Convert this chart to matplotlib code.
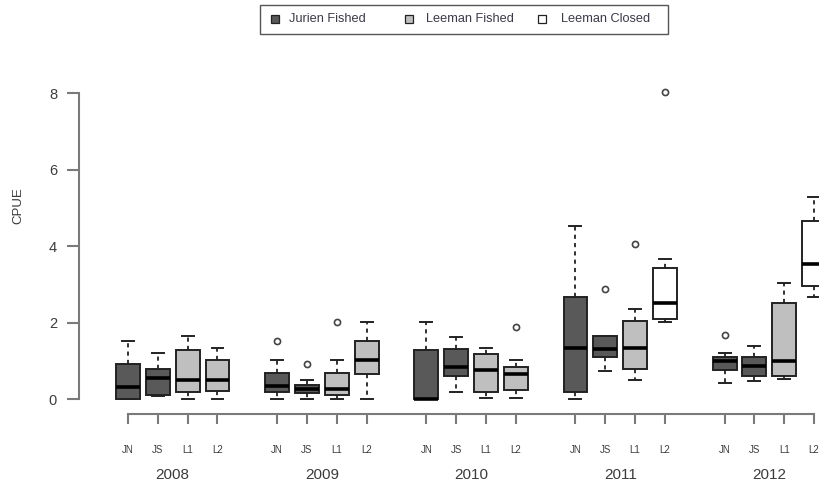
import matplotlib
matplotlib.use("Agg")
import matplotlib.pyplot as plt
from matplotlib.patches import Rectangle
from matplotlib.transforms import blended_transform_factory

plt.rcParams['font.family'] = ['Liberation Sans', 'DejaVu Sans']

# ---- data -------------------------------------------------------------
years = ['2008', '2009', '2010', '2011', '2012']
sites = ['JN', 'JS', 'L1', 'L2']
groups = ['Jurien Fished', 'Leeman Fished', 'Leeman Closed']

# management status of each site in each year
status = [
    ['Jurien Fished', 'Jurien Fished', 'Leeman Fished', 'Leeman Fished'],
    ['Jurien Fished', 'Jurien Fished', 'Leeman Fished', 'Leeman Fished'],
    ['Jurien Fished', 'Jurien Fished', 'Leeman Fished', 'Leeman Fished'],
    ['Jurien Fished', 'Jurien Fished', 'Leeman Fished', 'Leeman Closed'],
    ['Jurien Fished', 'Jurien Fished', 'Leeman Fished', 'Leeman Closed'],
]

# box statistics (rows = years, columns = sites)
whislo = [
    [0.00, 0.09, 0.00, 0.00],
    [0.00, 0.00, 0.00, 0.00],
    [0.00, 0.19, 0.02, 0.02],
    [0.00, 0.73, 0.50, 2.02],
    [0.41, 0.47, 0.52, 2.68],
]
q1 = [
    [0.00, 0.12, 0.19, 0.22],
    [0.19, 0.17, 0.10, 0.65],
    [0.00, 0.60, 0.18, 0.25],
    [0.19, 1.11, 0.80, 2.09],
    [0.76, 0.60, 0.60, 2.96],
]
median = [
    [0.32, 0.56, 0.50, 0.50],
    [0.35, 0.26, 0.26, 1.02],
    [0.00, 0.83, 0.76, 0.65],
    [1.33, 1.31, 1.35, 2.52],
    [0.99, 0.86, 1.00, 3.53],
]
q3 = [
    [0.93, 0.79, 1.29, 1.02],
    [0.67, 0.37, 0.69, 1.53],
    [1.28, 1.30, 1.17, 0.83],
    [2.68, 1.65, 2.05, 3.44],
    [1.09, 1.09, 2.52, 4.67],
]
whishi = [
    [1.51, 1.20, 1.66, 1.34],
    [1.02, 0.51, 1.02, 2.01],
    [2.02, 1.63, 1.34, 1.02],
    [4.54, 1.65, 2.37, 3.67],
    [1.21, 1.39, 3.03, 5.30],
]
outliers = [
    [[], [], [], []],
    [[1.53], [0.92], [2.02], []],
    [[], [], [], [1.88]],
    [[], [2.88], [4.05], [8.05]],
    [[1.68], [], [], []],
]

yticks = [0, 2, 4, 6, 8]
ylabel = 'CPUE'

# ---- styling ------------------------------------------------------------
fill = {'Jurien Fished': '#595959', 'Leeman Fished': '#bfbfbf',
        'Leeman Closed': '#ffffff'}
text_col = '#3c3c3c'
axis_col = '#7a7a7a'
line_col = '#222222'

W, H = 819, 486
fig = plt.figure(figsize=(W / 100, H / 100), dpi=100)

# axes placed in pixel units (right edge runs past the figure)
left_px, right_px, top_px, bottom_px = 79, 858, 79.3, 414
ax = fig.add_axes([left_px / W, (H - bottom_px) / H,
                   (right_px - left_px) / W, (bottom_px - top_px) / H])

stats, positions, colors = [], [], []
for i, yr in enumerate(years):
    for j, s in enumerate(sites):
        stats.append(dict(med=median[i][j], q1=q1[i][j], q3=q3[i][j],
                          whislo=whislo[i][j], whishi=whishi[i][j],
                          fliers=outliers[i][j]))
        positions.append(i * 5 + j + 1)
        colors.append(fill[status[i][j]])

bp = ax.bxp(stats, positions=positions, widths=0.8, patch_artist=True,
            showfliers=True,
            boxprops=dict(edgecolor=line_col, linewidth=1.4),
            medianprops=dict(color='black', linewidth=2.6,
                             solid_capstyle='butt'),
            whiskerprops=dict(color=line_col, linewidth=1.3,
                              linestyle=(0, (2.3, 2.3))),
            capprops=dict(color=line_col, linewidth=1.4),
            capwidths=0.4,
            flierprops=dict(marker='o', markersize=4.4,
                            markerfacecolor='none',
                            markeredgecolor='#444444',
                            markeredgewidth=1.2))
for patch, c in zip(bp['boxes'], colors):
    patch.set_facecolor(c)

ax.set_xlim(1 - (128 - left_px) / 29.83, 1 + (right_px - 128) / 29.83)
ax.set_ylim(-0.39, 8.37)

# R-style axes: lines only span the tick range
for side in ('top', 'right'):
    ax.spines[side].set_visible(False)
for side in ('left', 'bottom'):
    ax.spines[side].set_color(axis_col)
    ax.spines[side].set_linewidth(1.5)
ax.spines['left'].set_bounds(yticks[0], yticks[-1])
ax.spines['bottom'].set_bounds(positions[0], positions[-1])

ax.set_yticks(yticks)
ax.set_yticklabels([str(v) for v in yticks])
ax.tick_params(axis='y', length=8.8, width=1.5, color=axis_col, pad=7,
               labelsize=10.5, labelcolor=text_col)

ax.set_xticks(positions)
ax.set_xticklabels(sites * len(years))
ax.tick_params(axis='x', length=7.2, width=1.5, color=axis_col, pad=15,
               labelsize=7, labelcolor=text_col)

# year labels under each group of four sites
tr = blended_transform_factory(ax.transData, fig.transFigure)
for i, yr in enumerate(years):
    ax.text(i * 5 + 2.5, 1 - 475 / H, yr, transform=tr, ha='center',
            va='center', fontsize=11, color=text_col, clip_on=False)

fig.text(18.3 / W, 1 - 206 / H, ylabel, rotation=90, ha='center',
         va='center', fontsize=9.5, color=text_col)

# legend box across the top
fig.patches.append(Rectangle((259.5 / W, 1 - 34 / H), (668 - 259.5) / W,
                             29 / H, transform=fig.transFigure,
                             facecolor='white', edgecolor='#555555',
                             linewidth=1.0))
marker_x = [274.5, 409, 541.7]
text_x = [289, 426, 561]
for g, mx, tx in zip(groups, marker_x, text_x):
    fig.patches.append(Rectangle(((mx - 4) / W, 1 - 23.5 / H), 8 / W, 8 / H,
                                 transform=fig.transFigure,
                                 facecolor=fill[g], edgecolor='#222222',
                                 linewidth=0.9))
    fig.text(tx / W, 1 - 19.5 / H, g, ha='left', va='center', fontsize=9.2,
             color='#3a3a48')

fig.savefig('out.png', dpi=100)
